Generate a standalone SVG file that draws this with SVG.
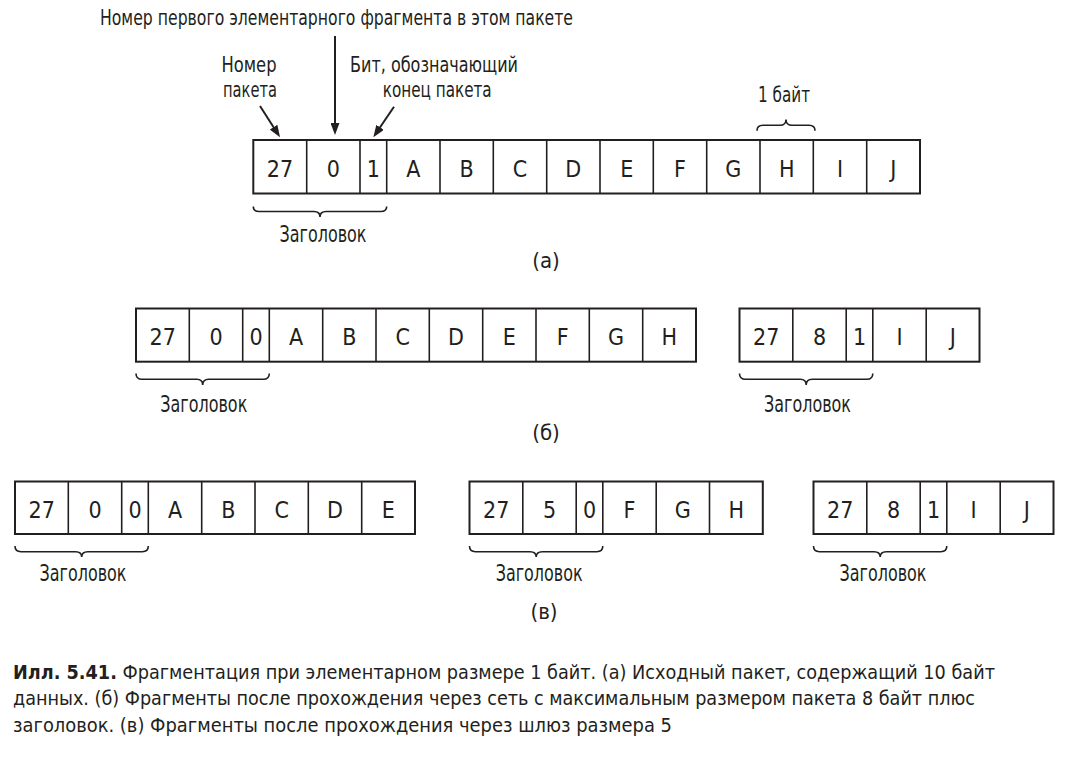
<svg xmlns="http://www.w3.org/2000/svg" width="1067" height="767" viewBox="0 0 1067 767">
<style>
text{font-family:"Liberation Sans Narrow","DejaVu Sans Condensed","Liberation Sans",sans-serif;fill:#231f20;font-size:22px}
.c{text-anchor:middle}
.cell{font-size:23px}
.hdr{font-size:23px}
.box{fill:#fff;stroke:#231f20;stroke-width:2}
.div{stroke:#231f20;stroke-width:1.6}
.brace{fill:none;stroke:#231f20;stroke-width:1.6}
.arr{stroke:#231f20;stroke-width:2;fill:none}
.cap{font-size:20px}
.b{font-weight:bold}
</style>
<defs>
<marker id="ah" viewBox="0 0 12 9" refX="6" refY="4.5" markerWidth="12" markerHeight="9" markerUnits="userSpaceOnUse" orient="auto">
<path d="M0,0 L12,4.5 L0,9 z" fill="#231f20"/>
</marker>
</defs>

<g id="labels-a">
<text x="100" y="25" textLength="473" lengthAdjust="spacingAndGlyphs">Номер первого элементарного фрагмента в этом пакете</text>
<text class="c" x="249" y="71.7" textLength="55" lengthAdjust="spacingAndGlyphs">Номер</text>
<text class="c" x="250" y="96.7" textLength="54" lengthAdjust="spacingAndGlyphs">пакета</text>
<text class="c" x="434" y="72" textLength="168" lengthAdjust="spacingAndGlyphs">Бит, обозначающий</text>
<text class="c" x="437.2" y="97" textLength="109" lengthAdjust="spacingAndGlyphs">конец пакета</text>
<text class="c" x="784" y="101.7" textLength="52" lengthAdjust="spacingAndGlyphs">1 байт</text>
</g>

<g id="connectors">
<line class="arr" x1="260" y1="106" x2="276.8" y2="132.2" marker-end="url(#ah)"/>
<line class="arr" x1="335" y1="36" x2="335" y2="129" marker-end="url(#ah)"/>
<line class="arr" x1="394" y1="106.7" x2="376.7" y2="132.3" marker-end="url(#ah)"/>
</g>

<g id="packet-a">
<rect class="box" x="253.3" y="140" width="666.7" height="53.5"/>
<path class="div" d="M306.7,140V193.5M360,140V193.5M386.7,140V193.5M440,140V193.5M493.3,140V193.5M546.7,140V193.5M600,140V193.5M653.3,140V193.5M706.7,140V193.5M760,140V193.5M813.3,140V193.5M866.7,140V193.5"/>
<text class="c cell" x="280" y="177">27</text>
<text class="c cell" x="333.3" y="177">0</text>
<text class="c cell" x="373.3" y="177">1</text>
<text class="c cell" x="413.3" y="177">A</text>
<text class="c cell" x="466.7" y="177">B</text>
<text class="c cell" x="520" y="177">C</text>
<text class="c cell" x="573.3" y="177">D</text>
<text class="c cell" x="626.7" y="177">E</text>
<text class="c cell" x="680" y="177">F</text>
<text class="c cell" x="733.3" y="177">G</text>
<text class="c cell" x="786.7" y="177">H</text>
<text class="c cell" x="840" y="177">I</text>
<text class="c cell" x="893.3" y="177">J</text>
<path class="brace" d="M253.3,206.5 Q253.3,211.5 259.3,211.5 L314,211.5 Q320,211.5 320,217 Q320,211.5 326,211.5 L380.7,211.5 Q386.7,211.5 386.7,206.5"/>
<path class="brace" d="M757,130.7 Q757,125.3 763,125.3 L780,125.3 Q786,125.3 786,119.5 Q786,125.3 792,125.3 L809,125.3 Q815,125.3 815,130.7"/>
<text class="c hdr" x="323" y="242" textLength="87" lengthAdjust="spacingAndGlyphs">Заголовок</text>
<text class="c" x="546" y="268">(а)</text>
</g>

<g id="packet-b1">
<rect class="box" x="136" y="308.5" width="560" height="53.2"/>
<path class="div" d="M189.3,308.5V361.7M242.7,308.5V361.7M269.3,308.5V361.7M322.7,308.5V361.7M376,308.5V361.7M429.3,308.5V361.7M482.7,308.5V361.7M536,308.5V361.7M589.3,308.5V361.7M642.7,308.5V361.7"/>
<text class="c cell" x="162.7" y="345">27</text>
<text class="c cell" x="216" y="345">0</text>
<text class="c cell" x="256" y="345">0</text>
<text class="c cell" x="296" y="345">A</text>
<text class="c cell" x="349.3" y="345">B</text>
<text class="c cell" x="402.7" y="345">C</text>
<text class="c cell" x="456" y="345">D</text>
<text class="c cell" x="509.3" y="345">E</text>
<text class="c cell" x="562.7" y="345">F</text>
<text class="c cell" x="616" y="345">G</text>
<text class="c cell" x="669.3" y="345">H</text>
<path class="brace" d="M136,373.5 Q136,379.3 142,379.3 L196.7,379.3 Q202.7,379.3 202.7,385 Q202.7,379.3 208.7,379.3 L263.3,379.3 Q269.3,379.3 269.3,373.5"/>
<text class="c hdr" x="203.8" y="411.7" textLength="87" lengthAdjust="spacingAndGlyphs">Заголовок</text>
</g>

<g id="packet-b2">
<rect class="box" x="739.5" y="308.5" width="240" height="53.2"/>
<path class="div" d="M792.8,308.5V361.7M846.2,308.5V361.7M872.8,308.5V361.7M926.2,308.5V361.7"/>
<text class="c cell" x="766.2" y="345">27</text>
<text class="c cell" x="819.5" y="345">8</text>
<text class="c cell" x="859.5" y="345">1</text>
<text class="c cell" x="899.5" y="345">I</text>
<text class="c cell" x="952.8" y="345">J</text>
<path class="brace" d="M739.5,373.5 Q739.5,379.3 745.5,379.3 L800.2,379.3 Q806.2,379.3 806.2,385 Q806.2,379.3 812.2,379.3 L866.8,379.3 Q872.8,379.3 872.8,373.5"/>
<text class="c hdr" x="807.5" y="411.7" textLength="87" lengthAdjust="spacingAndGlyphs">Заголовок</text>
</g>
<text class="c" x="546" y="440">(б)</text>

<g id="packet-c1">
<rect class="box" x="15" y="481.5" width="400" height="52.5"/>
<path class="div" d="M68.3,481.5V534M121.7,481.5V534M148.3,481.5V534M201.7,481.5V534M255,481.5V534M308.3,481.5V534M361.7,481.5V534"/>
<text class="c cell" x="41.7" y="518">27</text>
<text class="c cell" x="95" y="518">0</text>
<text class="c cell" x="135" y="518">0</text>
<text class="c cell" x="175" y="518">A</text>
<text class="c cell" x="228.3" y="518">B</text>
<text class="c cell" x="281.7" y="518">C</text>
<text class="c cell" x="335" y="518">D</text>
<text class="c cell" x="388.3" y="518">E</text>
<path class="brace" d="M15,546 Q15,551.7 21,551.7 L75.7,551.7 Q81.7,551.7 81.7,557 Q81.7,551.7 87.7,551.7 L142.3,551.7 Q148.3,551.7 148.3,546"/>
<text class="c hdr" x="83" y="580.7" textLength="87" lengthAdjust="spacingAndGlyphs">Заголовок</text>
</g>

<g id="packet-c2">
<rect class="box" x="469.5" y="481.5" width="293.3" height="52.5"/>
<path class="div" d="M522.8,481.5V534M576.2,481.5V534M602.8,481.5V534M656.2,481.5V534M709.5,481.5V534"/>
<text class="c cell" x="496.2" y="518">27</text>
<text class="c cell" x="549.5" y="518">5</text>
<text class="c cell" x="589.5" y="518">0</text>
<text class="c cell" x="629.5" y="518">F</text>
<text class="c cell" x="682.8" y="518">G</text>
<text class="c cell" x="736.2" y="518">H</text>
<path class="brace" d="M469.5,546 Q469.5,551.7 475.5,551.7 L530.2,551.7 Q536.2,551.7 536.2,557 Q536.2,551.7 542.2,551.7 L596.8,551.7 Q602.8,551.7 602.8,546"/>
<text class="c hdr" x="539.2" y="580.7" textLength="87" lengthAdjust="spacingAndGlyphs">Заголовок</text>
</g>

<g id="packet-c3">
<rect class="box" x="813.5" y="481.5" width="240" height="52.5"/>
<path class="div" d="M866.8,481.5V534M920.2,481.5V534M946.8,481.5V534M1000.2,481.5V534"/>
<text class="c cell" x="840.2" y="518">27</text>
<text class="c cell" x="893.5" y="518">8</text>
<text class="c cell" x="933.5" y="518">1</text>
<text class="c cell" x="973.5" y="518">I</text>
<text class="c cell" x="1026.8" y="518">J</text>
<path class="brace" d="M813.5,546 Q813.5,551.7 819.5,551.7 L874.2,551.7 Q880.2,551.7 880.2,557 Q880.2,551.7 886.2,551.7 L940.8,551.7 Q946.8,551.7 946.8,546"/>
<text class="c hdr" x="883" y="580.7" textLength="87" lengthAdjust="spacingAndGlyphs">Заголовок</text>
</g>
<text class="c" x="544" y="619">(в)</text>

<g id="caption">
<text class="cap" x="13" y="678.5" textLength="982" lengthAdjust="spacingAndGlyphs"><tspan class="b">Илл. 5.41.</tspan> Фрагментация при элементарном размере 1 байт. (а) Исходный пакет, содержащий 10 байт</text>
<text class="cap" x="13" y="705" textLength="962" lengthAdjust="spacingAndGlyphs">данных. (б) Фрагменты после прохождения через сеть с максимальным размером пакета 8 байт плюс</text>
<text class="cap" x="13" y="732" textLength="659" lengthAdjust="spacingAndGlyphs">заголовок. (в) Фрагменты после прохождения через шлюз размера 5</text>
</g>
</svg>
